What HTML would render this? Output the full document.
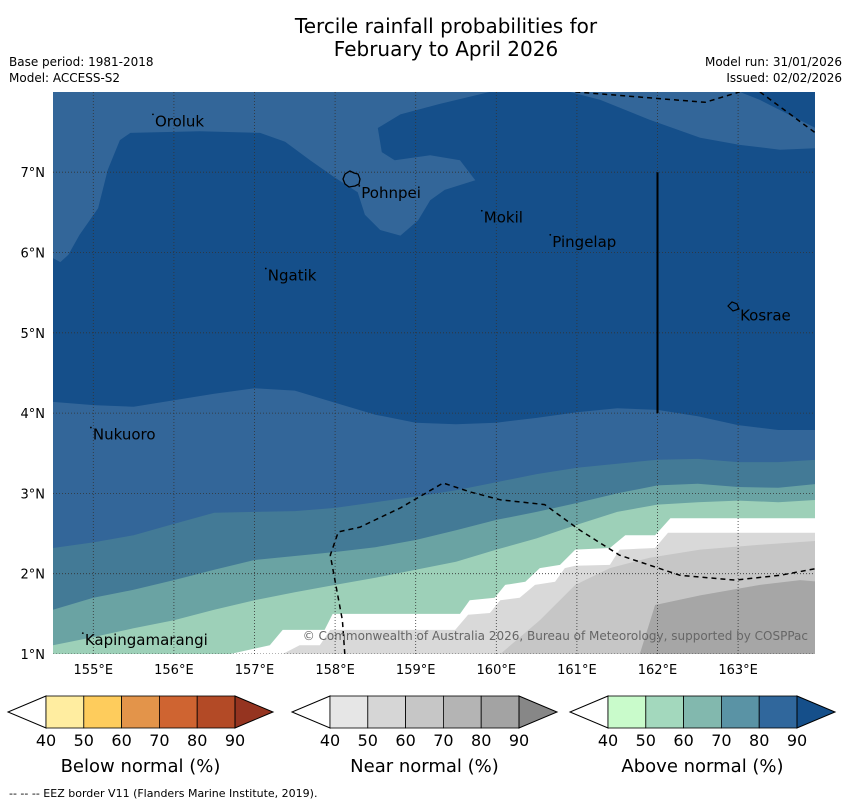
<!DOCTYPE html>
<html><head><meta charset="utf-8"><style>
body{margin:0;background:#fff;width:850px;height:804px;overflow:hidden;font-family:"Liberation Sans","DejaVu Sans",sans-serif}
svg{position:absolute;left:0;top:0}
</style></head><body>
<svg id="chart" width="850" height="804" font-family="DejaVu Sans, Liberation Sans, sans-serif">
<text x="446" y="33" font-size="20" text-anchor="middle">Tercile rainfall probabilities for</text>
<text x="446" y="56" font-size="20" text-anchor="middle">February to April 2026</text>
<text x="9" y="66" font-size="12">Base period: 1981-2018</text>
<text x="9" y="82" font-size="12">Model: ACCESS-S2</text>
<text x="842" y="66" font-size="12" text-anchor="end">Model run: 31/01/2026</text>
<text x="842" y="82" font-size="12" text-anchor="end">Issued: 02/02/2026</text>
<defs><clipPath id="mapclip"><rect x="53" y="92" width="762" height="562"/></clipPath></defs>
<g id="map" clip-path="url(#mapclip)"></g>
<g id="overlay"></g>
<g id="legend"></g>
<text x="9" y="797" font-size="11">--  --  -- EEZ border V11 (Flanders Marine Institute, 2019).</text>
</svg>
<script>
// ---- data ----
const lonGrid=[154.5,155,155.5,156,156.5,157,157.5,158,158.5,159,159.5,160,160.5,161,161.5,162,162.5,163,163.5,164];
const bound80=[4.14,4.10,4.08,4.16,4.24,4.31,4.28,4.13,3.98,3.88,3.86,3.88,3.94,4.01,4.06,4.04,3.96,3.85,3.79,3.79];
const bound70=[2.32,2.39,2.48,2.62,2.76,2.77,2.78,2.82,2.89,2.96,3.04,3.14,3.24,3.32,3.37,3.42,3.43,3.39,3.39,3.42];
const bound60=[1.55,1.70,1.80,1.92,2.05,2.17,2.22,2.27,2.33,2.42,2.54,2.67,2.77,2.88,3.00,3.10,3.12,3.08,3.07,3.12];
const bound50=[1.11,1.21,1.32,1.42,1.55,1.67,1.77,1.86,1.95,2.05,2.15,2.30,2.44,2.61,2.77,2.86,2.89,2.91,2.89,2.92];
const whiteTop=[[156.7,1.0],[157.19,1.11],[157.35,1.30],[157.87,1.30],[157.97,1.50],[159.55,1.50],[159.67,1.67],[159.98,1.70],[160.11,1.86],[160.36,1.90],[160.54,2.07],[160.79,2.11],[160.98,2.30],[161.41,2.32],[161.6,2.48],[161.97,2.48],[162.16,2.69],[164,2.69]];
const grayTop=[[157.35,1.0],[157.56,1.11],[157.81,1.11],[157.94,1.30],[159.49,1.30],[159.65,1.49],[159.92,1.51],[160.05,1.67],[160.29,1.70],[160.48,1.86],[160.73,1.90],[160.85,2.07],[160.98,2.10],[161.41,2.11],[161.53,2.30],[161.97,2.32],[162.13,2.51],[164,2.51]];
const gray60Top=[[160.05,1.0],[160.54,1.42],[160.98,1.86],[161.41,2.07],[161.91,2.20],[162.53,2.30],[163.27,2.36],[164,2.41]];
const gray80Top=[[161.78,1.0],[161.97,1.61],[162.53,1.73],[163.27,1.86],[163.77,1.92],[164,1.90]];
const upperMid=[[154.5,8],[159.92,8],[159.3,7.85],[158.81,7.72],[158.53,7.55],[158.58,7.25],[158.74,7.15],[159.18,7.21],[159.55,7.15],[159.74,6.9],[159.36,6.78],[159.18,6.65],[159.03,6.4],[158.81,6.21],[158.56,6.28],[158.37,6.47],[158.28,6.75],[158.0,6.93],[157.69,7.15],[157.38,7.38],[157.07,7.49],[156.32,7.51],[155.46,7.49],[155.33,7.4],[155.18,7.03],[155.06,6.55],[154.83,6.22],[154.69,5.97],[154.59,5.88],[154.5,5.93]];
const upperRight=[[160.91,8],[163.02,8],[163.27,7.9],[164,7.53],[164,7.3],[163.52,7.28],[163.02,7.34],[162.53,7.43],[161.91,7.65],[161.29,7.9]];
const eezSouth=[[158.12,1.0],[158.09,1.42],[157.94,2.23],[158.04,2.52],[158.31,2.58],[158.81,2.82],[159.34,3.13],[159.67,3.02],[160.05,2.92],[160.6,2.86],[161.04,2.54],[161.53,2.23],[162.28,1.98],[162.96,1.92],[163.52,1.98],[164,2.07]];
const eezNorth1=[[160.98,8],[162.59,7.87],[163.02,8]];
const eezNorth2=[[163.27,8],[164,7.46]];
const lonTicks=[155,156,157,158,159,160,161,162,163];
const latTicks=[1,2,3,4,5,6,7];
const places=[["Oroluk",155.74,7.72],["Pohnpei",158.30,6.83],["Mokil",159.82,6.52],["Pingelap",160.67,6.22],["Ngatik",157.14,5.8],["Kosrae",163.0,5.30],["Nukuoro",154.97,3.82],["Kapingamarangi",154.87,1.26]];
const legendTicks=["40","50","60","70","80","90"];
const belowColors=["#ffeda0","#fecc5c","#e3944a","#cf6431","#b34a26"];
const nearColors=["#e6e6e6","#d6d6d6","#c6c6c6","#b4b4b4","#a3a3a3"];
const aboveColors=["#c9fbcb","#a3d8bd","#82b8ae","#5a93a5","#30679c"];

// ---- axes ----
const X=lon=>53+(lon-154.5)*80.6;
const Y=lat=>654-(lat-1)*80.3;
const NS='http://www.w3.org/2000/svg';
function mk(tag,attrs,parent){const e=document.createElementNS(NS,tag);for(const k in attrs)e.setAttribute(k,attrs[k]);parent.appendChild(e);return e;}
const map=document.getElementById('map'),ov=document.getElementById('overlay'),lg=document.getElementById('legend');
function ptsStr(p){return p.map(q=>X(q[0]).toFixed(1)+','+Y(q[1]).toFixed(1)).join(' ');}
function below(lats){const p=lonGrid.map((l,i)=>[l,lats[i]]);return p.concat([[164.2,lats[lats.length-1]],[164.2,0.8],[154.4,0.8],[154.4,lats[0]]]);}
function belowPts(p){const last=p[p.length-1],first=p[0];return p.concat([[164.2,last[1]],[164.2,0.8],[first[0],0.8]]);}

let r=mk('rect',{x:53,y:92,width:762,height:562,fill:'#154f8a'},map);

let e;
e=mk('polygon',{points:ptsStr(upperMid),fill:'#336699'},map);

e=mk('polygon',{points:ptsStr(upperRight),fill:'#336699'},map);

const bands=[[bound80,'#336699','band-70-80'],[bound70,'#437a96','band-60-70'],[bound60,'#6aa3a3','band-50-60'],[bound50,'#9dd0b8','band-40-50']];
bands.forEach(b=>{const el=mk('polygon',{points:ptsStr(below(b[0])),fill:b[1]},map);

});
e=mk('polygon',{points:ptsStr(belowPts(whiteTop)),fill:'#ffffff'},map);

e=mk('polygon',{points:ptsStr(belowPts(grayTop)),fill:'#d9d9d9'},map);

e=mk('polygon',{points:ptsStr(belowPts(gray60Top)),fill:'#c6c6c6'},map);

e=mk('polygon',{points:ptsStr(belowPts(gray80Top)),fill:'#a6a6a6'},map);

// grid
lonTicks.forEach(l=>{const g=mk('line',{x1:X(l),x2:X(l),y1:92,y2:654,stroke:'#333','stroke-width':0.8,'stroke-dasharray':'1,2'},map);
});
latTicks.forEach(l=>{const g=mk('line',{x1:53,x2:815,y1:Y(l),y2:Y(l),stroke:'#333','stroke-width':0.8,'stroke-dasharray':'1,2'},map);
});
// eez
[[eezSouth,'eez-south'],[eezNorth1,'eez-north'],[eezNorth2,'eez-northeast']].forEach(z=>{const el=mk('polyline',{points:ptsStr(z[0]),fill:'none',stroke:'#000','stroke-width':1.5,'stroke-dasharray':'5,4'},map);

});
e=mk('line',{x1:X(162),x2:X(162),y1:Y(7),y2:Y(4),stroke:'#000','stroke-width':2},map);

// islands
e=mk('path',{d:'M345,174 l5,-3 l4,2 l4,1 l2,5 l-1,5 l-4,2 l-6,1 l-4,-3 l-2,-5 z',fill:'none',stroke:'#000','stroke-width':1.3},map);

e=mk('path',{d:'M728,306 l4,-4 l5,2 l2,5 l-6,2 z',fill:'none',stroke:'#000','stroke-width':1.2},map);

places.forEach(p=>{const t=mk('text',{x:X(p[1])+2,y:Y(p[2])+12,'font-size':15,fill:'#000'},map);t.textContent=p[0];


const d=mk('circle',{cx:X(p[1]),cy:Y(p[2]),r:0.9,fill:'#000'},map);

});
e=mk('text',{x:808,y:640,'font-size':12,fill:'#666','text-anchor':'end'},map);e.textContent='© Commonwealth of Australia 2026, Bureau of Meteorology, supported by COSPPac';

// axis labels
lonTicks.forEach(l=>{const t=mk('text',{x:X(l),y:674,'font-size':13,'text-anchor':'middle'},ov);t.textContent=l+'°E';

});
latTicks.forEach(l=>{const t=mk('text',{x:45,y:Y(l)+5,'font-size':13,'text-anchor':'end'},ov);t.textContent=l+'°N';

});
// legends
function colorbar(x0,colors,endColor,title,name){
 const w=37.8,y0=696,h=32;
 const l=mk('polygon',{points:`${x0},${y0} ${x0-38},${y0+h/2} ${x0},${y0+h}`,fill:'#fff',stroke:'#000','stroke-width':1},lg);
 
 
 colors.forEach((c,i)=>{const s=mk('rect',{x:x0+i*w,y:y0,width:w,height:h,fill:c,stroke:'#000','stroke-width':0.8},lg);
 
 });
 const xe=x0+5*w;
 const rr=mk('polygon',{points:`${xe},${y0} ${xe+38},${y0+h/2} ${xe},${y0+h}`,fill:endColor,stroke:'#000','stroke-width':1},lg);
 
 
 legendTicks.forEach((t,i)=>{const tx=mk('text',{x:x0+i*w,y:746,'font-size':16,'text-anchor':'middle'},lg);tx.textContent=t;
 
 });
 const tt=mk('text',{x:x0+2.5*w,y:772,'font-size':18,'text-anchor':'middle'},lg);tt.textContent=title;
 
 
}
colorbar(46,belowColors,'#953420','Below normal (%)','below-colorbar');
colorbar(330,nearColors,'#878787','Near normal (%)','near-colorbar');
colorbar(608,aboveColors,'#154f8a','Above normal (%)','above-colorbar');
</script>
</body></html>
